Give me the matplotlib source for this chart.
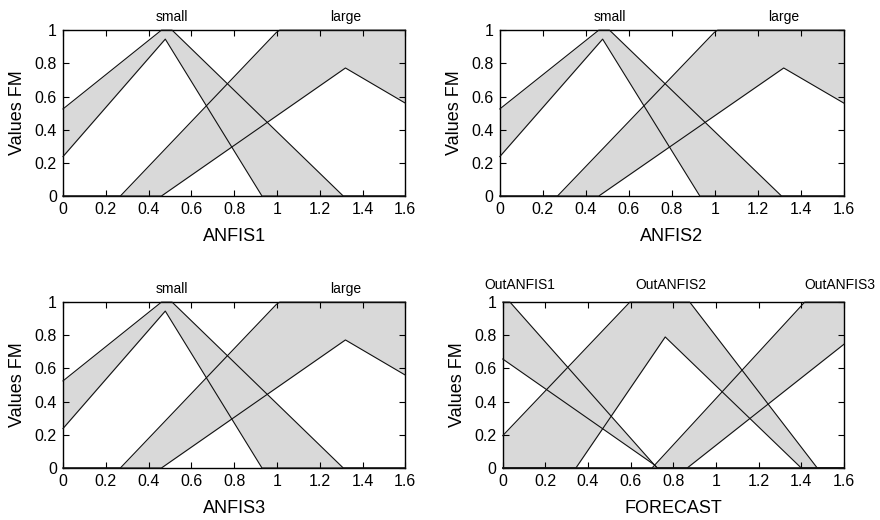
import numpy as np
import matplotlib
matplotlib.use("Agg")
import matplotlib.pyplot as plt
import matplotlib.transforms as mtransforms
from matplotlib.ticker import FuncFormatter

plt.rcParams['font.family'] = ['Liberation Sans', 'DejaVu Sans']

# ANFIS1..3 membership functions (upper / lower bounds of interval type-2 sets)
small_upper_x = [0.0, 0.46, 0.51, 1.31, 1.6]
small_upper_y = [0.525, 1.0, 1.0, 0.0, 0.0]
small_lower_x = [0.0, 0.478, 0.93, 1.6]
small_lower_y = [0.238, 0.946, 0.0, 0.0]
large_upper_x = [0.0, 0.268, 0.997, 1.013, 1.6]
large_upper_y = [0.0, 0.0, 0.986, 1.0, 1.0]
large_lower_x = [0.0, 0.46, 1.32, 1.6]
large_lower_y = [0.0, 0.0, 0.772, 0.56]

# FORECAST membership functions
out1_upper_x = [0.0, 0.034, 0.71, 0.725, 1.6]
out1_upper_y = [1.0, 1.0, 0.02, 0.0, 0.0]
out1_lower_x = [0.0, 0.71, 0.725, 1.6]
out1_lower_y = [0.657, 0.02, 0.0, 0.0]
out2_upper_x = [0.0, 0.596, 0.877, 1.475, 1.6]
out2_upper_y = [0.195, 1.0, 1.0, 0.0, 0.0]
out2_lower_x = [0.0, 0.343, 0.762, 1.40, 1.6]
out2_lower_y = [0.0, 0.0, 0.79, 0.0, 0.0]
out3_upper_x = [0.0, 0.70, 1.416, 1.6]
out3_upper_y = [0.0, 0.0, 1.0, 1.0]
out3_lower_x = [0.0, 0.865, 1.6]
out3_lower_y = [0.0, 0.0, 0.746]

anfis_sets = [
    (small_upper_x, small_upper_y, small_lower_x, small_lower_y),
    (large_upper_x, large_upper_y, large_lower_x, large_lower_y),
]
forecast_sets = [
    (out1_upper_x, out1_upper_y, out1_lower_x, out1_lower_y),
    (out2_upper_x, out2_upper_y, out2_lower_x, out2_lower_y),
    (out3_upper_x, out3_upper_y, out3_lower_x, out3_lower_y),
]

anfis_names = ["small", "large"]
anfis_name_x = [0.51, 1.32]
forecast_names = ["OutANFIS1", "OutANFIS2", "OutANFIS3"]
forecast_name_x = [0.08, 0.79, 1.58]

xlabels = ["ANFIS1", "ANFIS2", "ANFIS3", "FORECAST"]
xticks = [0, 0.2, 0.4, 0.6, 0.8, 1.0, 1.2, 1.4, 1.6]
yticks = [0, 0.2, 0.4, 0.6, 0.8, 1.0]

fig = plt.figure(figsize=(8.8, 5.2), dpi=100)
positions = [
    [0.0716, 0.623, 0.389, 0.319],
    [0.568, 0.623, 0.391, 0.319],
    [0.0716, 0.100, 0.389, 0.319],
    [0.5713, 0.100, 0.3877, 0.319],
]
fill_col = "#d9d9d9"
fmt = FuncFormatter(lambda v, p: f"{v:g}")

for i, pos in enumerate(positions):
    ax = fig.add_axes(pos)
    if i < 3:
        sets, names, name_x, off = anfis_sets, anfis_names, anfis_name_x, 4.5
    else:
        sets, names, name_x, off = forecast_sets, forecast_names, forecast_name_x, 7.0
    xs = np.linspace(0, 1.6, 3201)
    for ux, uy, lx, ly in sets:
        allx = np.unique(np.concatenate([xs, ux, lx]))
        up = np.interp(allx, ux, uy)
        lo = np.interp(allx, lx, ly)
        ax.fill_between(allx, lo, up, color=fill_col, linewidth=0, zorder=1)
    for ux, uy, lx, ly in sets:
        ax.plot(ux, uy, color="#111111", lw=0.8, zorder=3, clip_on=False)
        ax.plot(lx, ly, color="#111111", lw=0.8, zorder=3, clip_on=False)
    tr = ax.get_xaxis_transform() + mtransforms.ScaledTranslation(0, off/72, fig.dpi_scale_trans)
    for nm, nx in zip(names, name_x):
        ax.text(nx, 1.0, nm, ha="center", va="bottom", fontsize=10, transform=tr)
    ax.set_xlim(0, 1.6)
    ax.set_ylim(0, 1)
    ax.set_xticks(xticks)
    ax.set_yticks(yticks)
    ax.xaxis.set_major_formatter(fmt)
    ax.yaxis.set_major_formatter(fmt)
    ax.tick_params(direction="in", top=True, right=True, length=4, width=0.8,
                   labelsize=11.5, pad=4, colors="black")
    ax.tick_params(axis="y", pad=4.5)
    for s in ax.spines.values():
        s.set_linewidth(1.0)
    ax.set_xlabel(xlabels[i], fontsize=13, labelpad=8)
    ax.set_ylabel("Values FM", fontsize=13, labelpad=6)

fig.savefig("out.png", dpi=100)
